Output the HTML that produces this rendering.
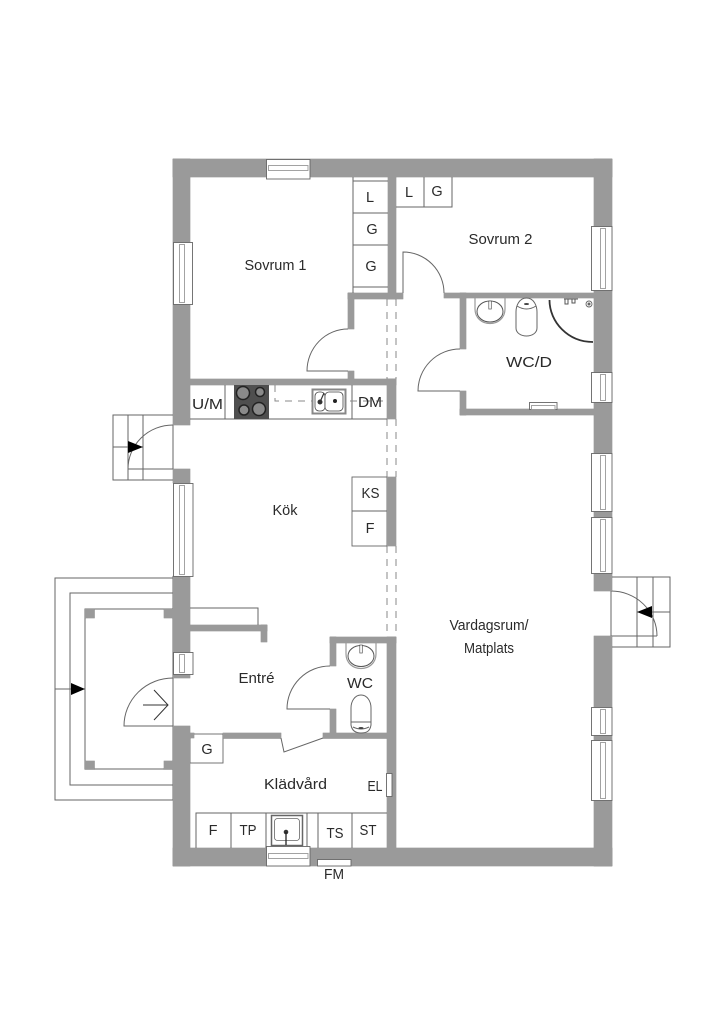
<!DOCTYPE html>
<html><head><meta charset="utf-8"><style>
html,body{margin:0;padding:0;background:#fff}
svg{display:block}
text{font-family:"Liberation Sans",sans-serif;font-size:14.500px;fill:#2a2a2a;text-anchor:middle}
.l{fill:none;stroke:#666;stroke-width:1}
.w{fill:#fff;stroke:#666;stroke-width:.9}
.i{fill:#fff;stroke:#999;stroke-width:.9}
.d{fill:none;stroke:#8a8a8a;stroke-width:1;stroke-dasharray:7 6}
</style></head><body>
<svg width="724" height="1024" viewBox="0 0 724 1024" xmlns="http://www.w3.org/2000/svg">
<rect width="724" height="1024" fill="#fff"/>
<defs><g id="walls">
<rect x="173" y="159" width="439" height="18"/>
<rect x="173" y="848" width="439" height="18"/>
<rect x="173" y="159" width="17" height="266"/>
<rect x="173" y="469" width="17" height="14"/>
<rect x="173" y="576" width="17" height="76"/>
<rect x="173" y="674" width="17" height="4"/>
<rect x="173" y="726" width="17" height="140"/>
<rect x="594" y="159" width="18" height="132"/>
<rect x="594" y="290" width="18" height="163"/>
<rect x="594" y="511" width="18" height="6"/>
<rect x="594" y="574" width="18" height="17"/>
<rect x="594" y="636" width="18" height="71"/>
<rect x="594" y="735" width="18" height="5"/>
<rect x="594" y="800" width="18" height="66"/>
<rect x="388" y="177" width="8" height="122"/>
<rect x="348" y="293" width="55" height="6"/>
<rect x="348" y="293" width="6" height="36"/>
<rect x="348" y="371" width="6" height="10"/>
<rect x="190" y="379" width="206" height="6"/>
<rect x="387" y="379" width="9" height="40"/>
<rect x="444" y="293" width="150" height="5"/>
<rect x="460" y="293" width="6" height="56"/>
<rect x="460" y="391" width="6" height="24"/>
<rect x="460" y="409" width="134" height="6"/>
<rect x="387" y="477" width="9" height="69"/>
<rect x="330" y="637" width="66" height="6"/>
<rect x="330" y="637" width="6" height="29"/>
<rect x="330" y="709" width="6" height="29"/>
<rect x="387" y="637" width="9" height="211"/>
<rect x="323" y="733" width="64" height="5.500"/>
<rect x="223" y="733" width="58" height="5.500"/>
<rect x="190" y="733" width="4" height="5"/>
<rect x="190" y="625" width="77" height="6"/>
<rect x="261" y="625" width="6" height="17"/>
<rect x="85" y="609" width="9.500" height="9"/>
<rect x="85" y="761" width="9.500" height="8.500"/>
<rect x="164" y="609" width="9" height="9"/>
<rect x="164" y="761" width="9" height="8.500"/>
</g></defs>

<!-- Porch lines -->
<path class="l" d="M173 578H55V800H173M173 593H70V785H173M173 609H85V769H173M173 576V800"/>
<path class="l" d="M55 689H85"/>
<path d="M85 689L71 683V695Z" fill="#000"/>
<path class="l" d="M173 678A49 48 0 0 0 124 726H173"/>
<path d="M143 705H168M154 690L168 705L154 720" fill="none" stroke="#333" stroke-width="1"/>

<!-- Left stairs -->
<path class="l" d="M173 415H113V480H173M128 415V480M143 415V480M113 447H143M173 425V469"/>
<path class="l" d="M173 425A45 44 0 0 0 128 469H173"/>
<path d="M143 447L128 441V453Z" fill="#000"/>

<!-- Right stairs -->
<path class="l" d="M611 577H670V647H611ZM637 577V647M653 577V647M637 612H670M611 636H657"/>
<path class="l" d="M611 591A46 45 0 0 1 657 636"/>
<path d="M637 612L652 606V618Z" fill="#000"/>

<!-- Dashes -->
<path class="d" d="M387 299V379M396 299V379M387 419V477M396 419V477M387 546V636M396 546V636"/>

<!-- Cabinets -->
<path class="l" d="M353 177V293M353 181H388M353 213H388M353 245H388M353 287H388"/>
<path class="l" d="M396 207H452V177M424 177V207"/>
<rect x="352" y="477" width="35" height="69" class="w"/><path class="l" d="M352 511H387"/>
<rect x="190" y="734" width="33" height="29" class="w"/>
<path class="l" d="M190 419H387M225 385V419M352 385V419"/>
<path class="l" d="M190 608H258V625"/>
<path class="l" d="M196 848V813H387M231 813V848M266 813V848M307 813V848M318 813V848M352 813V848"/>

<!-- Walls -->
<use href="#walls" fill="#808080" stroke="#777" stroke-width=".5"/>
<use href="#walls" fill="#9a9a9a"/>

<!-- Stove -->
<rect x="234" y="385" width="35" height="34" fill="#4f4f4f"/>
<g stroke="#222" stroke-width="1.500" fill="#8a8a8a">
<circle cx="243" cy="393" r="6.500"/><circle cx="260" cy="392" r="4.500"/>
<circle cx="244" cy="410" r="5"/><circle cx="259" cy="409" r="6.500"/>
</g>

<!-- Kitchen dashed and sink -->
<path d="M275 385V401H387" fill="none" stroke="#888" stroke-width="1" stroke-dasharray="7 6"/>
<rect x="312.500" y="389.500" width="33" height="24" fill="#fff" stroke="#888" stroke-width="2"/>
<rect x="315" y="392" width="10" height="19" rx="4" fill="#fff" stroke="#444" stroke-width="0.800"/>
<rect x="325" y="392" width="18" height="19" rx="4" fill="#fff" stroke="#444" stroke-width="0.800"/>
<circle cx="320" cy="402" r="2.500" fill="#333"/><circle cx="335" cy="401" r="2" fill="#222"/>
<path d="M320 402L324 393" stroke="#333" stroke-width="1.200"/>

<!-- Doors -->
<path class="l" d="M348 329A41 42 0 0 0 307 371H348"/>
<path class="l" d="M403 293V252A41 41 0 0 1 444 293"/>
<path class="l" d="M460 349A42 42 0 0 0 418 391H460"/>
<path class="l" d="M330 666A43 43 0 0 0 287 709H330"/>
<path class="l" d="M281 738L284 752L323 738"/>

<!-- Windows left -->
<rect x="173.500" y="242.500" width="19" height="62" class="w"/><rect x="179.500" y="244.500" width="5" height="58" class="i"/>
<rect x="173.500" y="483.500" width="19.500" height="93" class="w"/><rect x="179.500" y="485.500" width="5" height="89" class="i"/>
<rect x="173.500" y="652.500" width="19.500" height="22" class="w"/><rect x="179.500" y="654.500" width="5" height="18" class="i"/>
<!-- Windows right -->
<rect x="591.500" y="226.500" width="20.500" height="64" class="w"/><rect x="600.500" y="228.500" width="5" height="60" class="i"/>
<rect x="591.500" y="372.500" width="20.500" height="30" class="w"/><rect x="600.500" y="374.500" width="5" height="26" class="i"/>
<rect x="591.500" y="453.500" width="20.500" height="58" class="w"/><rect x="600.500" y="455.500" width="5" height="54" class="i"/>
<rect x="591.500" y="517.500" width="20.500" height="56" class="w"/><rect x="600.500" y="519.500" width="5" height="52" class="i"/>
<rect x="591.500" y="707.500" width="20.500" height="28" class="w"/><rect x="600.500" y="709.500" width="5" height="24" class="i"/>
<rect x="591.500" y="740.500" width="20.500" height="60" class="w"/><rect x="600.500" y="742.500" width="5" height="56" class="i"/>
<!-- Windows top/bottom -->
<rect x="266.500" y="159.500" width="43.500" height="19.500" class="w"/><rect x="268.500" y="165.500" width="39.500" height="5" class="i"/>
<rect x="266.500" y="846.500" width="43.500" height="19.500" class="w"/><rect x="268.500" y="853.500" width="39.500" height="5" class="i"/>
<rect x="317.500" y="859.500" width="33.500" height="6.500" class="w"/>
<rect x="386.500" y="773.500" width="5.500" height="23" class="w"/>
<rect x="529.500" y="402.500" width="27.500" height="7" class="w"/><rect x="531.500" y="405.500" width="23.500" height="4" class="i"/>

<!-- WC/D fixtures -->
<path d="M475 298V309C475 318 482 323.500 490 323.500C498 323.500 505 318 505 309V298" fill="none" stroke="#999" stroke-width="1.200"/>
<ellipse cx="490" cy="311.500" rx="13" ry="10.500" fill="none" stroke="#555"/>
<rect x="488.800" y="301" width="2.500" height="8" fill="#fff" stroke="#555" stroke-width="0.700"/>
<path class="l" d="M516 312V328C516 333 521 336 526.500 336C532 336 537 333 537 328V312C537 306 534 298 526.500 298C519 298 516 306 516 312Z"/>
<path class="l" d="M517 306Q526.500 312 536 306"/>
<ellipse cx="526.500" cy="304" rx="2.500" ry="1" fill="#444"/>
<path d="M549.500 300C549.500 322 568 342 593 342" fill="none" stroke="#333" stroke-width="1.800"/>
<circle cx="589" cy="304" r="3" class="w"/><circle cx="589" cy="304" r="1.500" fill="#666"/>
<path d="M564 299H578M565 299V304H568V299M572 299V303H575V299" fill="none" stroke="#555"/>

<!-- WC fixtures -->
<path d="M346 643V654C346 663 353 668.500 361 668.500C369 668.500 376 663 376 654V643" fill="none" stroke="#999" stroke-width="1.200"/>
<ellipse cx="361" cy="656" rx="13" ry="10.500" fill="none" stroke="#555"/>
<rect x="359.800" y="645" width="2.500" height="8" fill="#fff" stroke="#555" stroke-width="0.700"/>
<path class="l" d="M351 725C352 731 356 733 361 733C367 733 370 731 371 725V708C371 701 367 695 361 695C355 695 351 701 351 708Z"/>
<path class="l" d="M351 722H371M353 727Q361 731 369 727"/>
<ellipse cx="361" cy="728" rx="2.500" ry="1" fill="#444"/>

<!-- Laundry sink -->
<rect x="271.500" y="815.500" width="31" height="30" fill="#fff" stroke="#666" stroke-width="1.500"/>
<rect x="274.500" y="818.500" width="25" height="22" rx="3" fill="#fff" stroke="#666" stroke-width="0.800"/>
<circle cx="286" cy="832" r="2.300" fill="#333"/>
<path d="M286 832V845" stroke="#222" stroke-width="1.300"/>

<!-- Labels -->
<text x="275.500" y="270" textLength="62" lengthAdjust="spacingAndGlyphs">Sovrum 1</text>
<text x="500.500" y="244" textLength="64" lengthAdjust="spacingAndGlyphs">Sovrum 2</text>
<text x="529" y="367" textLength="46" lengthAdjust="spacingAndGlyphs">WC/D</text>
<text x="285" y="515" textLength="25" lengthAdjust="spacingAndGlyphs">Kök</text>
<text x="256.500" y="683" textLength="36" lengthAdjust="spacingAndGlyphs">Entré</text>
<text x="360" y="688" textLength="26" lengthAdjust="spacingAndGlyphs">WC</text>
<text x="295.500" y="789" textLength="63" lengthAdjust="spacingAndGlyphs">Klädvård</text>
<text x="375" y="791" textLength="15" lengthAdjust="spacingAndGlyphs">EL</text>
<text x="489" y="630" textLength="79" lengthAdjust="spacingAndGlyphs">Vardagsrum/</text>
<text x="489" y="653" textLength="50" lengthAdjust="spacingAndGlyphs">Matplats</text>
<text x="370" y="202">L</text><text x="372" y="234">G</text><text x="371" y="271">G</text>
<text x="409" y="197">L</text><text x="437" y="196">G</text>
<text x="207.500" y="409" textLength="31" lengthAdjust="spacingAndGlyphs">U/M</text>
<text x="370" y="407" textLength="24" lengthAdjust="spacingAndGlyphs">DM</text>
<text x="370.500" y="498" textLength="18" lengthAdjust="spacingAndGlyphs">KS</text>
<text x="370" y="533">F</text>
<text x="207" y="754">G</text>
<text x="213" y="835">F</text>
<text x="248" y="835" textLength="17" lengthAdjust="spacingAndGlyphs">TP</text>
<text x="335" y="838" textLength="17" lengthAdjust="spacingAndGlyphs">TS</text>
<text x="368" y="835" textLength="17" lengthAdjust="spacingAndGlyphs">ST</text>
<text x="334" y="879" textLength="20" lengthAdjust="spacingAndGlyphs">FM</text>
</svg>
</body></html>
